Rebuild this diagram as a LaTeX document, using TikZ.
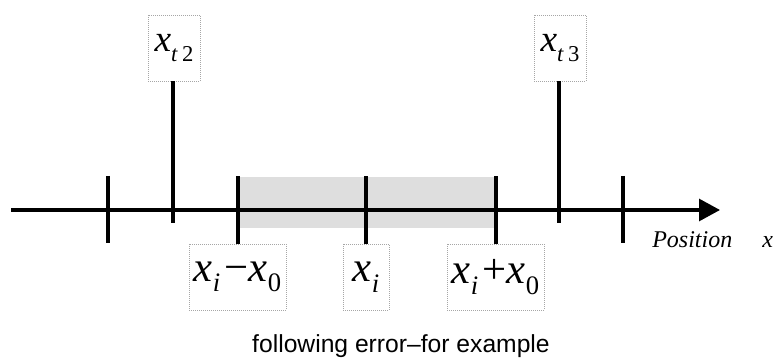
\documentclass[tikz,border=0pt]{standalone}
\usepackage{fontspec}
\setmainfont{Liberation Serif}
\newfontfamily\capfont{Liberation Sans}
\usetikzlibrary{arrows.meta}

% label helpers: big italic x with a lowered index
\newcommand{\xsub}[2]{\textit{x}\raisebox{-0.25em}{\fontsize{#2}{#2}\selectfont\textit{#1}}}

\tikzset{
  axisline/.style={line width=2.3pt},
  tickline/.style={line width=2.3pt},
  lblbox/.style={draw=gray!70, densely dotted, line width=0.5pt, inner sep=0pt, minimum height=49.5pt},
  toplbl/.style={lblbox, minimum width=39pt, font=\fontsize{28}{28}\selectfont},
  botlbl/.style={lblbox, font=\fontsize{32}{32}\selectfont},
}

\begin{document}
\begin{tikzpicture}[x=0.75pt,y=0.75pt,yscale=-1,xscale=1]
\path[use as bounding box] (0,0) rectangle (776,363);

%Shaded band x_i-x_0 .. x_i+x_0
\fill [black!13] (238,177) rectangle (496,228);

%Axis
\coordinate (ax0) at (11,210);
\coordinate (ax1) at (720,210);
\draw [axisline, -{Triangle[length=15.75pt, width=16.5pt]}] (ax0) -- (ax1);

%Short ticks
\foreach \xx in {108,623}
  \draw [tickline] (\xx,176) -- (\xx,243);

%Label boxes
\node [toplbl] (t2) at (174,48) {\xsub{t\kern3.5pt\upshape 2}{17}};
\node [toplbl] (t3) at (560,48) {\xsub{t\kern3.5pt\upshape 3}{17}};
\node [botlbl, minimum width=72.75pt] (lo) at (237.5,277) {\xsub{i}{20}\kern3pt−\kern0.5pt\xsub{\upshape 0}{20}};
\node [botlbl, minimum width=34.5pt] (mid) at (366,277) {\xsub{i}{20}};
\node [botlbl, minimum width=72.75pt] (hi) at (495.5,277) {\xsub{i}{20}\kern3pt+\kern0.5pt\xsub{\upshape 0}{20}};

%Tick ends
\coordinate (t2e) at (173,223);
\coordinate (t3e) at (559,223);
\coordinate (loe) at (238,176);
\coordinate (mide) at (366,176);
\coordinate (hie) at (496,176);

%Ticks joined to the boxes
\draw [tickline] (t2.south -| t2e) -- (t2e);
\draw [tickline] (t3.south -| t3e) -- (t3e);
\draw [tickline] (lo.north -| loe) -- (loe);
\draw [tickline] (mid.north -| mide) -- (mide);
\draw [tickline] (hi.north -| hie) -- (hie);

% Text Node
\node [anchor=base west, inner sep=0pt, font=\fontsize{18}{18}\selectfont\itshape] (pos) at (652,248) {Position};
\node [anchor=base west, inner sep=0pt, font=\fontsize{18}{18}\selectfont\itshape] (posx) at (762,248) {x};
% Text Node
\node [anchor=base, font=\capfont\fontsize{18.5}{22}\selectfont] (cap) at (401,353) {following error–for example};

\end{tikzpicture}
\end{document}
